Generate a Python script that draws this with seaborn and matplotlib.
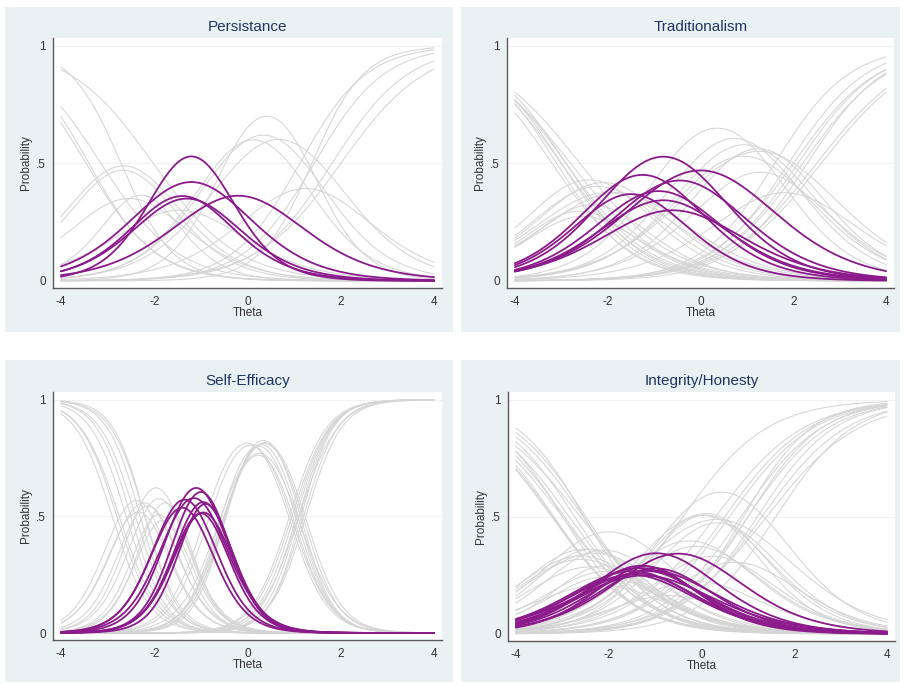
import numpy as np
import pandas as pd
import matplotlib.pyplot as plt
from matplotlib.patches import Rectangle
import seaborn as sns

# Item parameters (graded response model):
# discrimination a and four thresholds b1..b4 per item, 5 response categories
titles = ['Persistance', 'Traditionalism', 'Self-Efficacy', 'Integrity/Honesty']

pers_a = [1.33, 1.40, 1.80, 1.22, 1.10]
pers_b = [[-3.46, -1.85, -0.75, 1.43],
          [-3.40, -1.94, -0.86, 1.12],
          [-2.71, -1.86, -0.55, 1.38],
          [-3.14, -1.94, -0.47, 1.81],
          [-2.02, -0.89, 0.49, 2.00]]

trad_a = [1.20, 1.20, 1.00, 1.10, 1.25, 1.15, 1.10, 1.00]
trad_b = [[-2.90, -1.78, 0.18, 2.30],
          [-3.00, -2.06, -0.44, 1.90],
          [-2.60, -1.02, 1.02, 2.60],
          [-2.90, -1.28, 0.38, 2.20],
          [-3.10, -2.12, -0.88, 1.60],
          [-3.20, -1.60, -0.20, 2.10],
          [-3.00, -1.45, -0.15, 2.00],
          [-2.80, -1.22, 0.02, 2.50]]

self_a = [2.6, 2.8, 2.5, 2.7, 2.9, 2.5, 2.6, 2.7, 2.4]
self_b = [[-2.60, -1.66, -0.54, 1.00],
          [-2.30, -1.50, -0.50, 1.10],
          [-2.90, -1.87, -0.83, 0.95],
          [-2.50, -1.42, -0.48, 1.20],
          [-2.20, -1.33, -0.47, 1.15],
          [-2.80, -1.88, -0.92, 0.90],
          [-2.40, -1.39, -0.51, 1.25],
          [-2.20, -1.42, -0.58, 1.05],
          [-2.75, -1.70, -0.60, 1.10]]

integ_a = [1.15, 1.10, 1.10, 1.25, 1.35, 1.10, 1.20, 1.05, 1.15, 1.00, 1.10, 1.20]
integ_b = [[-2.55, -1.60, -0.35, 0.85],
           [-2.85, -1.15, 0.15, 1.30],
           [-3.20, -2.00, -1.00, -0.40],
           [-2.99, -1.78, -0.82, 1.00],
           [-2.53, -1.64, -0.76, 0.90],
           [-2.95, -1.88, -0.83, 0.60],
           [-2.73, -1.48, -0.52, 1.20],
           [-3.00, -1.63, -0.57, 0.30],
           [-3.18, -1.86, -0.94, 1.00],
           [-2.61, -1.76, -0.74, 1.40],
           [-3.23, -1.97, -1.03, 0.50],
           [-2.49, -1.66, -0.74, 1.60]]

scales = [(pers_a, pers_b), (trad_a, trad_b), (self_a, self_b), (integ_a, integ_b)]

theta = np.linspace(-4, 4, 201)
HIGHLIGHT = 2  # middle category drawn in purple

GREY = '#d5d5d5'
PURPLE = '#8b1a8b'
PANEL_BG = '#e9f1f3'
TITLE_COL = '#1f3461'
AXIS_COL = '#5a5a5a'


def category_curves(a_list, b_list):
    # long table of category probability curves for every item
    rows = []
    for i, (a, b) in enumerate(zip(a_list, b_list)):
        cum = [np.ones_like(theta)]
        cum += [1 / (1 + np.exp(-a * (theta - bk))) for bk in b]
        cum.append(np.zeros_like(theta))
        for k in range(len(b) + 1):
            rows.append(pd.DataFrame({'theta': theta,
                                      'prob': cum[k] - cum[k + 1],
                                      'curve': f'{i}_{k}',
                                      'cat': k}))
    return pd.concat(rows, ignore_index=True)


sns.set_theme(style='white')
plt.rcParams['font.family'] = ['Liberation Sans', 'DejaVu Sans']

W, H = 905, 685
fig = plt.figure(figsize=(W / 100, H / 100), dpi=100)
fig.patch.set_facecolor('white')

# panel background boxes and plot areas, in pixels (left, top, right, bottom)
panel_px = [(5, 7, 453, 332), (461, 7, 900, 332), (5, 360, 453, 682), (461, 360, 900, 682)]
plot_px = [(53, 38, 442, 288), (507, 38, 894, 288), (53, 392, 442, 640), (508, 392, 895, 641)]

for idx, (title, (a_list, b_list)) in enumerate(zip(titles, scales)):
    l, t, r, btm = panel_px[idx]
    fig.patches.append(Rectangle((l / W, 1 - btm / H), (r - l) / W, (btm - t) / H,
                                 transform=fig.transFigure, facecolor=PANEL_BG,
                                 edgecolor='none', zorder=-5))
    pl, pt, pr, pb = plot_px[idx]
    ax = fig.add_axes([pl / W, 1 - pb / H, (pr - pl) / W, (pb - pt) / H])
    ax.set_facecolor('white')

    df = category_curves(a_list, b_list)
    sns.lineplot(data=df[df['cat'] != HIGHLIGHT], x='theta', y='prob', units='curve',
                 estimator=None, color=GREY, lw=0.75, ax=ax)
    sns.lineplot(data=df[df['cat'] == HIGHLIGHT], x='theta', y='prob', units='curve',
                 estimator=None, color=PURPLE, lw=1.3, ax=ax)

    ax.set_xlim(-4.17, 4.17)
    ax.set_ylim(-0.03, 1.033)
    ax.set_xticks([-4, -2, 0, 2, 4])
    ax.set_xticklabels(['-4', '-2', '0', '2', '4'])
    ax.set_yticks([0, 0.5, 1])
    ax.set_yticklabels(['0', '.5', '1'])
    for yv in [0.5, 1]:
        ax.axhline(yv, color='#eef2f2', lw=0.8, zorder=0)

    for s in ['top', 'right']:
        ax.spines[s].set_visible(False)
    for s in ['left', 'bottom']:
        ax.spines[s].set_color(AXIS_COL)
        ax.spines[s].set_linewidth(1.0)
    ax.tick_params(axis='both', direction='out', length=3.5, width=0.9,
                   color=AXIS_COL, labelsize=8.5, labelcolor='#333333')
    ax.tick_params(axis='x', pad=2.5)
    ax.tick_params(axis='y', pad=1.5)

    ax.set_xlabel('Theta', fontsize=8.5, color='#333333')
    ax.set_ylabel('Probability', fontsize=8.5, color='#333333')
    ax.xaxis.set_label_coords(0.5, -0.075)
    ax.yaxis.set_label_coords(-0.054, 0.5)

    fig.text((pl + pr) / 2 / W, 1 - (pt - 11) / H, title, ha='center', va='center',
             fontsize=11, color=TITLE_COL)

fig.savefig('out.png', dpi=100)
